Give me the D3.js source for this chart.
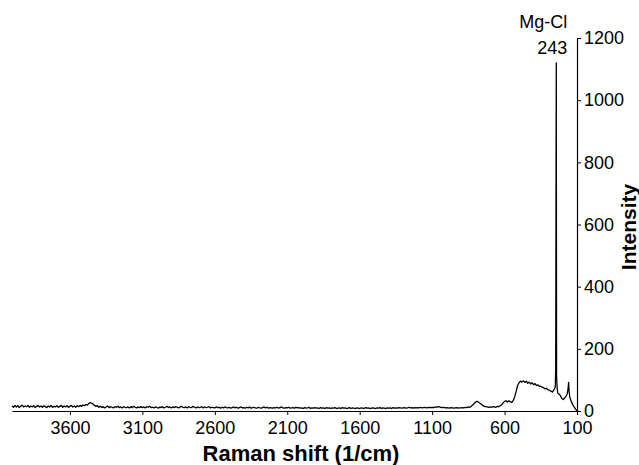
<!DOCTYPE html>
<html>
<head>
<meta charset="utf-8">
<script src="https://cdn.jsdelivr.net/npm/d3@7"></script>
<style>
  html, body { margin: 0; padding: 0; background: #fff; }
  svg { display: block; font-family: "Liberation Sans", Arial, sans-serif; }
</style>
</head>
<body>
<svg id="chart" width="639" height="465"></svg>
<script>
// Raman spectrum: shift in cm^-1, intensity in counts
const ramanShift = [
  4000,3990,3980,3970,3960,3950,3940,3930,3920,3910,
  3900,3890,3880,3870,3860,3850,3840,3830,3820,3810,
  3800,3790,3780,3770,3760,3750,3740,3730,3720,3710,
  3700,3690,3680,3670,3660,3650,3640,3630,3620,3610,
  3600,3590,3580,3570,3560,3550,3540,3530,3520,3510,
  3500,3490,3480,3470,3460,3450,3440,3430,3420,3410,
  3400,3390,3380,3370,3360,3350,3340,3330,3320,3310,
  3300,3290,3280,3270,3260,3250,3240,3230,3220,3210,
  3200,3190,3180,3170,3160,3150,3140,3130,3120,3110,
  3100,3090,3080,3070,3060,3050,3040,3030,3020,3010,
  3000,2990,2980,2970,2960,2950,2940,2930,2920,2910,
  2900,2890,2880,2870,2860,2850,2840,2830,2820,2810,
  2800,2790,2780,2770,2760,2750,2740,2730,2720,2710,
  2700,2690,2680,2670,2660,2650,2640,2630,2620,2610,
  2600,2590,2580,2570,2560,2550,2540,2530,2520,2510,
  2500,2490,2480,2470,2460,2450,2440,2430,2420,2410,
  2400,2390,2380,2370,2360,2350,2340,2330,2320,2310,
  2300,2290,2280,2270,2260,2250,2240,2230,2220,2210,
  2200,2190,2180,2170,2160,2150,2140,2130,2120,2110,
  2100,2090,2080,2070,2060,2050,2040,2030,2020,2010,
  2000,1990,1980,1970,1960,1950,1940,1930,1920,1910,
  1900,1890,1880,1870,1860,1850,1840,1830,1820,1810,
  1800,1790,1780,1770,1760,1750,1740,1730,1720,1710,
  1700,1690,1680,1670,1660,1650,1640,1630,1620,1610,
  1600,1590,1580,1570,1560,1550,1540,1530,1520,1510,
  1500,1490,1480,1470,1460,1450,1440,1430,1420,1410,
  1400,1390,1380,1370,1360,1350,1340,1330,1320,1310,
  1300,1290,1280,1270,1260,1250,1240,1230,1220,1210,
  1200,1190,1180,1170,1160,1150,1140,1130,1120,1110,
  1100,1090,1080,1070,1060,1050,1040,1030,1020,1010,
  1000,990,980,970,960,950,940,930,920,910,
  900,890,880,870,860,850,840,830,820,810,
  800,790,780,770,760,750,740,730,720,710,
  700,690,680,670,660,650,640,630,620,610,
  600,590,580,
  570,560,550,540,530,520,510,500,490,480,
  470,460,450,440,430,420,410,400,390,380,
  370,360,350,340,330,320,310,300,290,280,
  270,262,256,250,247,245,243,241,237,233,
  225,215,205,195,185,175,168,162,158,155,
  150,140,130,120,110,100
];

const intensity = [
  16,12,18,13,17,11,15,19,13,16,
  14,18,12,16,13,17,11,15,18,13,
  16,12,17,14,11,16,13,18,12,15,
  13,17,12,15,18,12,16,13,17,12,
  15,18,13,16,12,17,14,18,15,19,
  17,21,19,24,27,25,22,18,15,17,
  12,15,11,14,10,13,16,11,14,12,
  10,14,12,15,11,13,10,14,12,11,
  13,10,14,11,15,12,10,13,11,14,
  11,13,10,14,12,15,11,12,10,13,
  12,9,13,11,14,10,12,15,11,13,
  10,13,11,14,12,10,13,15,12,11,
  13,10,14,12,11,15,12,10,13,11,
  12,14,10,13,11,12,14,10,12,11,
  10,13,11,12,9,12,10,13,11,10,
  12,9,11,13,10,12,9,11,13,10,
  11,9,12,10,13,9,11,12,10,9,
  12,10,9,11,13,10,12,9,11,10,
  9,11,10,12,9,11,13,10,9,11,
  10,12,9,10,11,9,12,10,11,9,
  10,8,11,9,10,12,8,10,9,11,
  9,10,8,11,9,10,8,11,9,10,
  8,10,9,11,8,9,10,8,11,9,
  10,8,9,11,8,10,9,8,10,9,
  8,10,9,8,11,9,10,8,9,10,
  9,8,10,9,11,8,10,9,8,10,
  9,10,8,11,9,10,9,11,10,9,
  10,11,9,10,12,10,11,9,11,10,
  11,10,12,10,11,12,10,11,12,11,
  12,11,13,12,14,13,12,11,12,10,
  11,10,9,11,10,9,10,11,9,10,
  10,11,10,12,11,13,12,15,19,24,
  29,31,28,25,22,18,15,14,13,12,
  13,12,14,13,12,15,14,17,20,26,
  31,33,29,
  33,29,28,34,46,63,82,91,96,93,
  97,92,96,89,93,87,91,85,88,82,
  84,79,80,76,75,71,73,68,67,64,
  61,66,70,78,132,640,1120,110,75,58,
  55,50,40,37,42,48,55,70,92,66,
  45,31,21,13,6,1
];

const xTicks = [3600, 3100, 2600, 2100, 1600, 1100, 600, 100];
const yTicks = [0, 200, 400, 600, 800, 1000, 1200];
const peakShift = 243;
const peakName = "Mg-Cl";

const svg = d3.select("#chart");
const plot = { left: 12, right: 577, top: 38, bottom: 411 };

const x = d3.scaleLinear().domain([4000, 100]).range([plot.left, plot.right]);
const y = d3.scaleLinear().domain([0, 1200]).range([plot.bottom, plot.top]);

// x axis (wavenumber decreasing to the right)
const xAxis = svg.append("g")
  .attr("transform", `translate(0,${plot.bottom})`)
  .call(d3.axisBottom(x).tickValues(xTicks).tickSize(4).tickSizeOuter(0).tickPadding(6).tickFormat(d3.format("d")));

// y axis on the right side
const yAxis = svg.append("g")
  .attr("transform", `translate(${plot.right},0)`)
  .call(d3.axisRight(y).tickValues(yTicks).tickSize(4).tickSizeOuter(0).tickPadding(3).tickFormat(d3.format("d")));

[xAxis, yAxis].forEach(g => {
  g.select(".domain").attr("stroke", "#000").attr("stroke-width", 1.2);
  g.selectAll(".tick line").attr("stroke", "#000").attr("stroke-width", 1);
  g.selectAll(".tick text").attr("fill", "#000").style("font-size", "18px")
    .style("font-family", "'Liberation Sans', Arial, sans-serif");
});

// spectrum trace
const points = ramanShift.map((s, i) => [s, intensity[i]]);
svg.append("path")
  .datum(points)
  .attr("fill", "none")
  .attr("stroke", "#000")
  .attr("stroke-width", 1.3)
  .attr("stroke-linejoin", "round")
  .attr("d", d3.line().x(d => x(d[0])).y(d => y(d[1])));

// peak annotation
const px = x(peakShift) + 11;
svg.append("text")
  .attr("x", px).attr("y", 28)
  .attr("text-anchor", "end")
  .style("font-size", "18px")
  .text(peakName);
svg.append("text")
  .attr("x", px).attr("y", 54)
  .attr("text-anchor", "end")
  .style("font-size", "18px")
  .text(peakShift);

// axis titles
svg.append("text")
  .attr("x", 301).attr("y", 461)
  .attr("text-anchor", "middle")
  .style("font-size", "22px").style("font-weight", "bold")
  .text("Raman shift (1/cm)");

svg.append("text")
  .attr("transform", "translate(636,227) rotate(-90)")
  .attr("text-anchor", "middle")
  .style("font-size", "21px").style("font-weight", "bold")
  .text("Intensity");
</script>
</body>
</html>
